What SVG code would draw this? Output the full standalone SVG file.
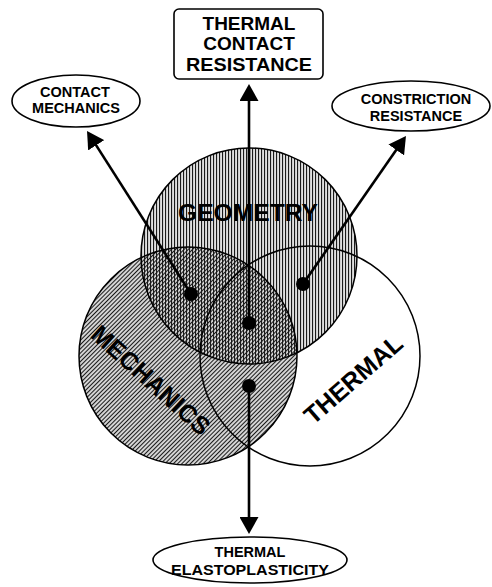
<svg xmlns="http://www.w3.org/2000/svg" width="492" height="587" viewBox="0 0 492 587">
<style>
.lbl{font-family:"Liberation Sans",Arial,Helvetica,sans-serif;font-weight:bold;fill:#000;text-anchor:middle}
.box{font-size:19px}
.ell{font-size:14.5px}
.big{font-size:25px}
.outline{fill:none;stroke:#000;stroke-width:1.5}
.node{fill:#fff;stroke:#000;stroke-width:1.6}
.arrow{stroke:#000;stroke-width:2.6;fill:none;marker-end:url(#ah)}
.dot{fill:#000}
</style>
<defs>
<pattern id="vert" width="3" height="3" patternUnits="userSpaceOnUse"><rect width="3" height="3" fill="#e0e0e0"/><rect width="1.1" height="3" fill="#1a1a1a"/></pattern>
<pattern id="diag" width="3" height="3" patternUnits="userSpaceOnUse" patternTransform="rotate(45)"><rect width="3" height="3" fill="#d4d4d4"/><rect width="1" height="3" fill="#1a1a1a"/></pattern>
<pattern id="diagLines" width="3" height="3" patternUnits="userSpaceOnUse" patternTransform="rotate(45)"><rect width="1.1" height="3" fill="#1a1a1a"/></pattern>
<clipPath id="clipMech"><circle cx="188" cy="356" r="109"/></clipPath>
<marker id="ah" markerUnits="userSpaceOnUse" markerWidth="17" markerHeight="19" refX="2" refY="9.5" orient="auto"><path d="M0,0 L17,9.5 L0,19 Z" fill="#000"/></marker>
</defs>
<rect width="492" height="587" fill="#fff"/>

<g id="mechanics">
<circle cx="188" cy="356" r="109" fill="url(#diag)"/>
</g>
<g id="geometry">
<circle cx="249" cy="256" r="108" fill="url(#vert)"/>
<circle cx="249" cy="256" r="108" fill="url(#diagLines)" clip-path="url(#clipMech)"/>
</g>
<g id="thermal">
<circle cx="310" cy="356" r="110" class="outline"/>
</g>
<g id="outlines">
<circle cx="188" cy="356" r="109" class="outline"/>
<circle cx="249" cy="256" r="108" class="outline"/>
</g>
<g id="labels">
<text class="lbl" x="248" y="221" font-size="23" textLength="140" lengthAdjust="spacingAndGlyphs">GEOMETRY</text>
<text class="lbl big" transform="translate(151,380) rotate(42)" x="0" y="9" textLength="150" lengthAdjust="spacingAndGlyphs">MECHANICS</text>
<text class="lbl big" transform="translate(353,379) rotate(-41)" x="0" y="9" textLength="121" lengthAdjust="spacingAndGlyphs">THERMAL</text>
</g>

<g id="connectors">
<line class="arrow" x1="249" y1="323" x2="249" y2="99"/>
<line class="arrow" x1="191" y1="294" x2="95.1" y2="143.6"/>
<line class="arrow" x1="303" y1="284" x2="397.4" y2="148.3"/>
<line class="arrow" x1="249" y1="386" x2="249" y2="519"/>
<circle class="dot" cx="191" cy="294" r="7"/>
<circle class="dot" cx="303" cy="284" r="7"/>
<circle class="dot" cx="249" cy="323" r="7"/>
<circle class="dot" cx="249" cy="386" r="7"/>
</g>

<g id="thermal-contact-resistance">
<rect class="node" x="174" y="9" width="149" height="70" rx="5"/>
<text class="lbl box" x="249" y="30">THERMAL</text>
<text class="lbl box" x="249" y="50">CONTACT</text>
<text class="lbl box" x="249" y="71" textLength="126" lengthAdjust="spacingAndGlyphs">RESISTANCE</text>
</g>
<g id="contact-mechanics">
<ellipse class="node" cx="76" cy="101" rx="64" ry="26"/>
<text class="lbl ell" x="75" y="97">CONTACT</text>
<text class="lbl ell" x="76" y="113">MECHANICS</text>
</g>
<g id="constriction-resistance">
<ellipse class="node" cx="411" cy="106" rx="79" ry="25"/>
<text class="lbl ell" x="416" y="104">CONSTRICTION</text>
<text class="lbl ell" x="416" y="121">RESISTANCE</text>
</g>
<g id="thermal-elastoplasticity">
<ellipse class="node" cx="250" cy="560" rx="97" ry="23"/>
<text class="lbl ell" x="250" y="557">THERMAL</text>
<text class="lbl ell" x="250" y="575" textLength="158" lengthAdjust="spacingAndGlyphs">ELASTOPLASTICITY</text>
</g>
</svg>
